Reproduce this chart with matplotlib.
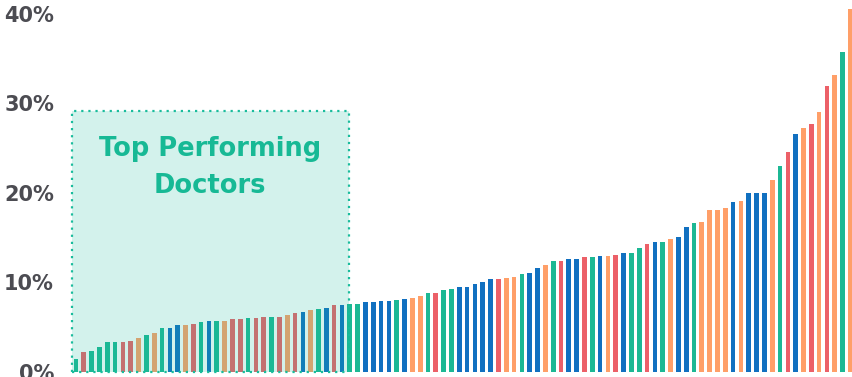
"""Doctor performance bar chart with highlighted top performers."""

import matplotlib
matplotlib.use("Agg")
import matplotlib.pyplot as plt
from matplotlib.patches import Rectangle
from matplotlib.ticker import FuncFormatter

# --- Data ---

# one bar per doctor, sorted ascending (share in %)
rates = [
    1.4, 2.2, 2.4, 2.8, 3.3, 3.4, 3.4, 3.5, 3.8, 4.1,
    4.4, 4.9, 4.95, 5.2, 5.3, 5.4, 5.6, 5.75, 5.75, 5.75,
    5.9, 5.9, 6.05, 6.07, 6.2, 6.2, 6.2, 6.33, 6.63, 6.74,
    6.96, 7.0, 7.15, 7.45, 7.5, 7.6, 7.6, 7.8, 7.8, 7.9,
    7.9, 8.0, 8.2, 8.27, 8.5, 8.86, 8.86, 9.16, 9.27, 9.5,
    9.5, 9.8, 10.1, 10.4, 10.4, 10.5, 10.6, 11.0, 11.1, 11.65,
    12.0, 12.4, 12.4, 12.6, 12.6, 12.9, 12.9, 12.95, 13.0, 13.05,
    13.3, 13.3, 13.9, 14.35, 14.5, 14.5, 14.85, 15.05, 16.2, 16.7,
    16.8, 18.1, 18.1, 18.3, 18.95, 19.1, 20.0, 20.05, 20.05, 21.45,
    23.05, 24.6, 26.55, 27.25, 27.7, 29.0, 32.0, 33.2, 35.8, 40.5,
]

# group code per bar: G, R, O, B
groups = list(
    "GRGGGGRROGOGBBORG"
    "BGORRGRRGRORBOGBR"
    "BGGBBBBGBOOGRGGBBB"
    "BBROOGBBOGRBBRGBO"
    "RBGGRBGOBBGOOOOBO"
    "BBBOGRBOROROGO"
)

yticks = [0, 10, 20, 30, 40]
highlight_label = "Top Performing\nDoctors"
highlight_count = 35  # bars covered by the shaded box

# --- Styling ---

GROUP_COLORS = {
    "G": "#1CB894",
    "R": "#EC6068",
    "O": "#FF9F68",
    "B": "#1170C0",
}
TEAL = "#17B995"
TEXT_GRAY = "#4C4C52"

plt.rcParams["font.family"] = ["DejaVu Sans"]

fig = plt.figure(figsize=(8.52, 3.77), dpi=100)
ax = fig.add_axes([72 / 852, 5 / 377, 780 / 852, 372 / 377])

x = list(range(len(rates)))
colors = [GROUP_COLORS[g] for g in groups]
ax.bar(x, rates, width=0.6, color=colors, zorder=2)

# shaded "top performers" box, drawn over the bars
box_right = highlight_count - 0.15
ax.add_patch(Rectangle((-0.5, 0), box_right + 0.5, 29.2,
                       facecolor="#1ABC9C", alpha=0.19, edgecolor="none", zorder=3))
ax.add_patch(Rectangle((-0.5, 0), box_right + 0.5, 29.2,
                       fill=False, edgecolor="#1ABC9C", linestyle=(0, (1, 2.2)),
                       linewidth=1.6, zorder=4, clip_on=False))
ax.text((box_right - 0.5) / 2, 22.8, highlight_label, ha="center", va="center",
        fontsize=18.5, fontweight="bold", color=TEAL, linespacing=1.55, zorder=5)

ax.set_xlim(-0.51, 99.2)
ax.set_ylim(0, 41.56)
ax.set_yticks(yticks)
ax.yaxis.set_major_formatter(FuncFormatter(lambda v, _: f"{v:.0f}%"))
ax.tick_params(axis="y", length=0, pad=13, labelsize=15, labelcolor=TEXT_GRAY)
for lbl in ax.get_yticklabels():
    lbl.set_fontweight("bold")
ax.set_xticks([])
for side in ax.spines.values():
    side.set_visible(False)

fig.savefig("out.png", dpi=100)
plt.close(fig)
